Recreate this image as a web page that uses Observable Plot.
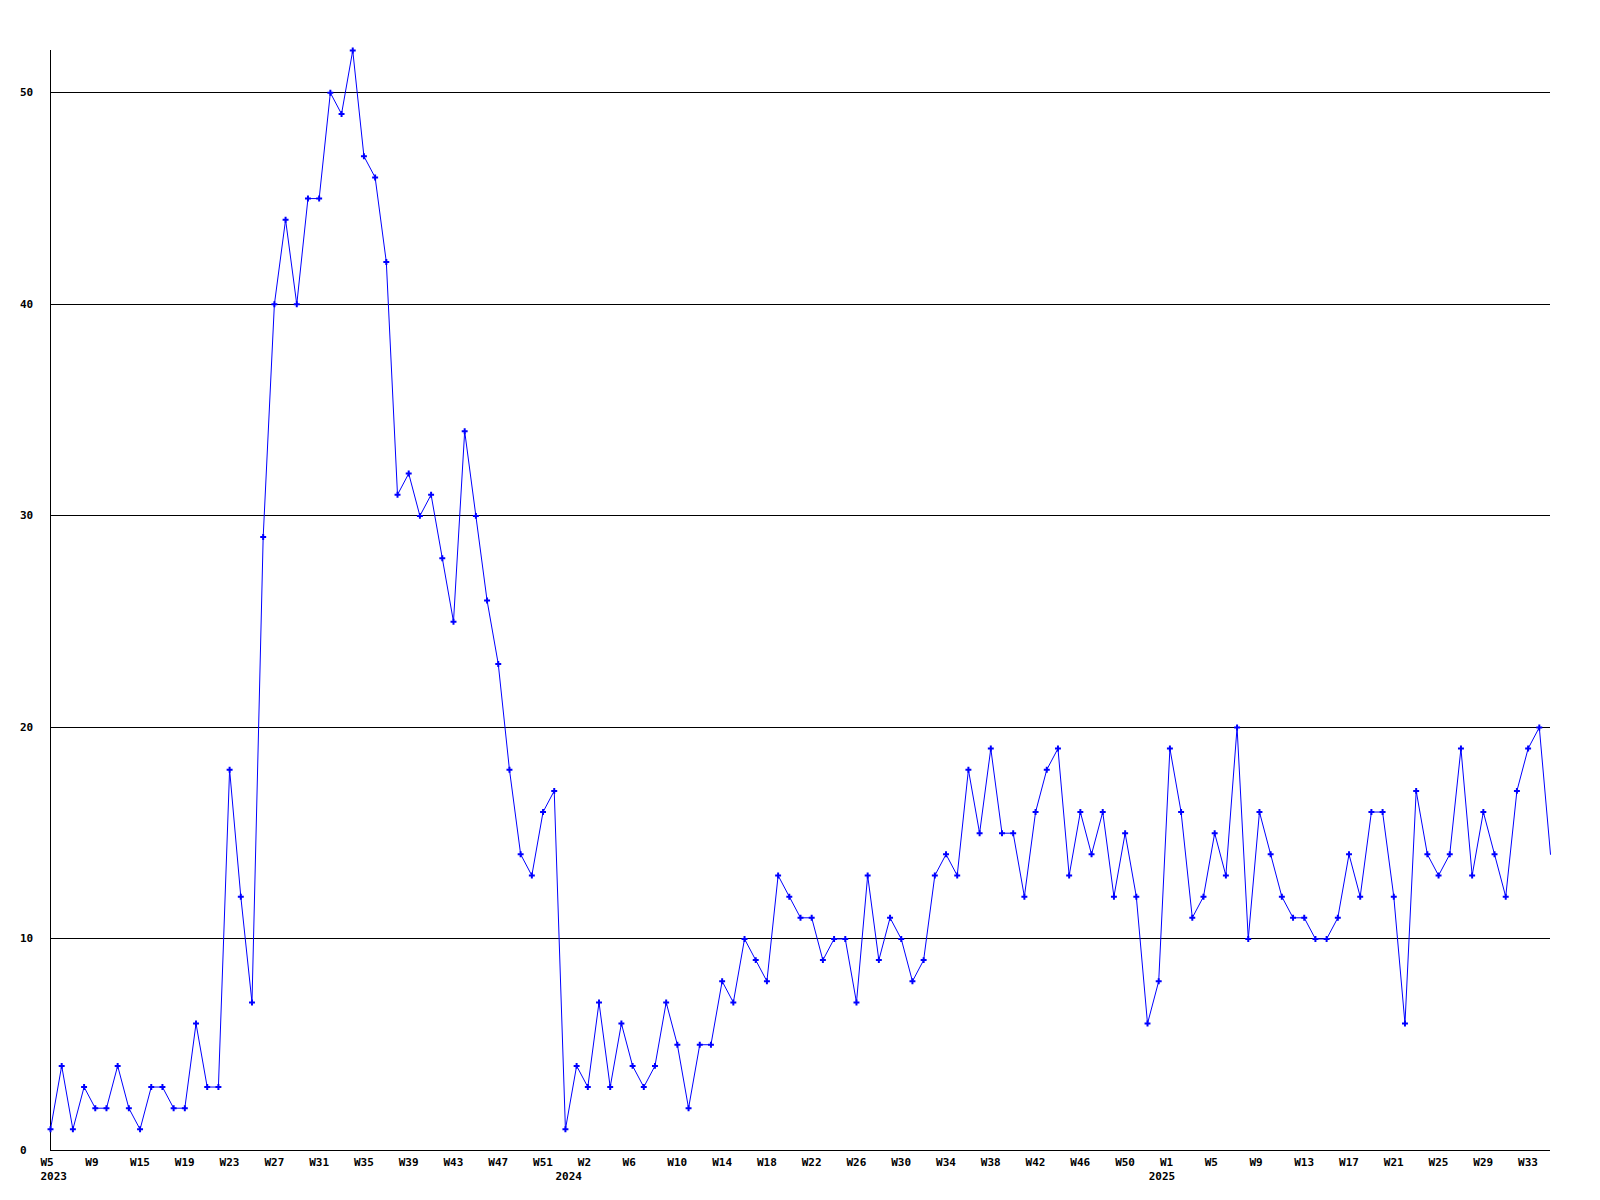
<!DOCTYPE html>
<html>
<head>
<meta charset="utf-8">
<script src="https://cdn.jsdelivr.net/npm/d3@7"></script>
<script src="https://cdn.jsdelivr.net/npm/@observablehq/plot@0.6"></script>
<style>
  html, body { margin: 0; padding: 0; background: #ffffff; }
  #chart svg { display: block; }
</style>
</head>
<body>
<div id="chart"></div>
<script>
// Weekly values, in order (one per point)
const values = [
  1,4,1,3,2,2,4,2,1,3,3,2,2,6,3,3,18,12,7,29,40,44,40,45,45,50,49,52,47,46,42,31,32,30,31,28,25,34,30,26,23,18,14,13,16,17,
  1,4,3,7,3,6,4,3,4,7,5,2,5,5,8,7,10,9,8,13,12,11,11,9,10,10,7,13,9,11,10,8,9,13,14,13,18,15,19,15,15,12,16,18,19,13,16,14,16,12,15,12,
  6,8,19,16,11,12,15,13,20,10,16,14,12,11,11,10,10,11,14,12,16,16,12,6,17,14,13,14,19,13,16,14,12,17,19,20,14
];

// Week tick labels (one every 4 points)
const weekLabels = [
  "W5","W9","W15","W19","W23","W27","W31","W35","W39","W43","W47","W51",
  "W2","W6","W10","W14","W18","W22","W26","W30","W34","W38","W42","W46","W50",
  "W1","W5","W9","W13","W17","W21","W25","W29","W33"
];
const weekStep = 4;

// Year labels and the index of the point where each year starts
const yearLabels = ["2023", "2024", "2025"];
const yearStart = [0, 46, 99];

// Horizontal grid values
const gridValues = [10, 20, 30, 40, 50];

const data = values.map((v, i) => ({i, v}));
const weekTicks = weekLabels.map((_, k) => k * weekStep);
const n = values.length;

const font = "'DejaVu Sans Mono', monospace";

const chart = Plot.plot({
  width: 1600,
  height: 1200,
  marginLeft: 50,
  marginRight: 50,
  marginTop: 50,
  marginBottom: 50,
  style: {background: "#ffffff", fontFamily: font, fontSize: "11px", fontWeight: "bold", color: "#000"},
  x: {type: "linear", domain: [0, n - 1]},
  y: {domain: [0, d3.max(values)]},
  marks: [
    Plot.ruleY(gridValues, {stroke: "#000", strokeWidth: 1, shapeRendering: "crispEdges"}),
    Plot.ruleX([0], {stroke: "#000", strokeWidth: 1, shapeRendering: "crispEdges"}),
    Plot.ruleY([0], {stroke: "#000", strokeWidth: 1, shapeRendering: "crispEdges"}),
    Plot.axisY({
      ticks: [0, ...gridValues],
      tickSize: 0,
      tickPadding: 0,
      textAnchor: "start",
      dx: -30.5,
      label: null,
      fontWeight: "bold",
      fill: "#000"
    }),
    Plot.axisX({
      ticks: weekTicks,
      tickFormat: (d) => weekLabels[Math.round(d / weekStep)],
      tickSize: 0,
      tickPadding: 0,
      textAnchor: "start",
      dx: -10,
      dy: 8,
      label: null,
      fill: "#000"
    }),
    Plot.axisX({
      ticks: yearStart,
      tickFormat: (d) => yearLabels[yearStart.indexOf(d)],
      tickSize: 0,
      tickPadding: 0,
      textAnchor: "start",
      dx: -10,
      dy: 22,
      label: null,
      fill: "#000"
    }),
    Plot.line(data, {x: "i", y: "v", stroke: "#0000ff", strokeWidth: 1}),
    Plot.dot(data.filter((d) => d.i < n - 1), {x: "i", y: "v", symbol: "cross", r: 2.5, fill: "#0000ff", stroke: "none"})
  ]
});

document.getElementById("chart").appendChild(chart);
</script>
</body>
</html>
